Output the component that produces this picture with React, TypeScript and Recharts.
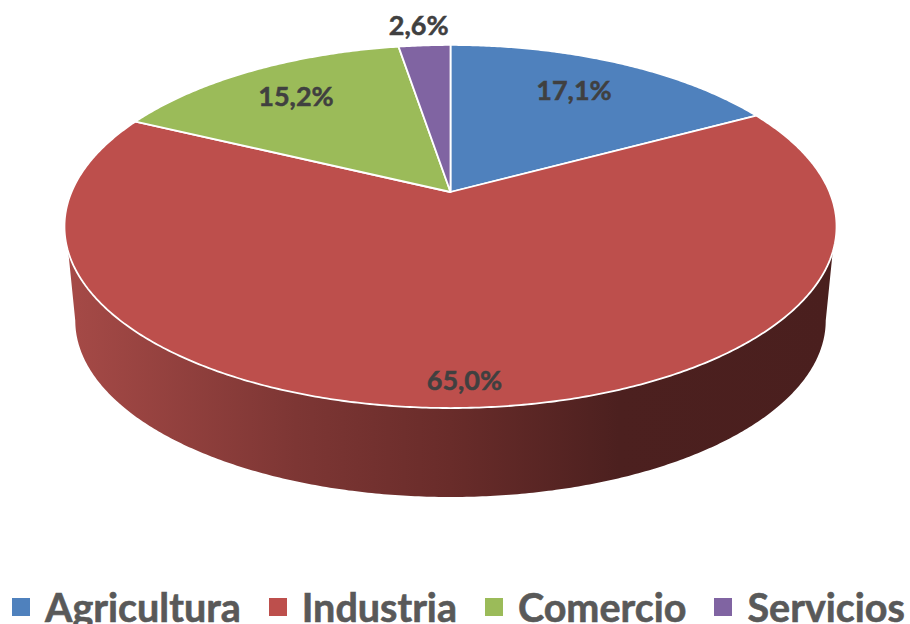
import { PieChart, Pie, Legend } from 'recharts'

const categories = ['Agricultura', 'Industria', 'Comercio', 'Servicios']
const shares = [17.1, 65.0, 15.2, 2.6]
const COLORS = ['#4f81bd', '#bd4f4c', '#9bbb59', '#8064a2']

const data = categories.map((name, i) => ({ name, value: shares[i], fill: COLORS[i] }))

// where each percentage sits: fraction of the radius plus a small nudge
const LABEL_PLACES = [
  { r: 0.71, dx: 0, dy: -7 },
  { r: 0.892, dx: 5, dy: 0 },
  { r: 0.749, dx: -2, dy: -2 },
  { r: 1.177, dx: -2, dy: 0 },
]

// the tilted disc is a perspective view of a circle
const TILT = 0.19
const SQUASH = 0.4617
const WALL_SCALE = 0.972
const WALL_DEPTH = 95

function project(cx: number, cy: number, radius: number, angle: number, r = 1) {
  const a = ((90 - angle) * Math.PI) / 180
  const u = Math.sin(a) * r
  const v = Math.cos(a) * r
  const w = 1 + TILT * v
  return { x: cx + (radius * u) / w, y: cy - (radius * SQUASH * v) / w }
}

function arcPoints(cx: number, cy: number, radius: number, from: number, to: number) {
  const steps = Math.max(2, Math.ceil(Math.abs(from - to) * 2))
  const points = []
  for (let i = 0; i <= steps; i++) {
    points.push(project(cx, cy, radius, from + ((to - from) * i) / steps))
  }
  return points
}

const toPath = (points: { x: number; y: number }[]) =>
  points.map((p, i) => `${i ? 'L' : 'M'}${p.x.toFixed(2)},${p.y.toFixed(2)}`).join(' ')

function TopSlice(props: any) {
  const { cx, cy, outerRadius, startAngle, endAngle, fill } = props
  const arc = arcPoints(cx, cy, outerRadius, startAngle, endAngle)
  return (
    <path
      d={`M${cx},${cy} ${toPath(arc).replace('M', 'L')} Z`}
      fill={fill}
      stroke="#ffffff"
      strokeWidth={1.8}
      strokeLinejoin="round"
    />
  )
}

function WallSlice(props: any) {
  const { cx, cy, outerRadius, startAngle, endAngle } = props
  // only the front of the disc has a visible wall (angles are polar degrees, -90 is the front)
  const from = Math.min(startAngle, -18.8)
  const to = Math.max(endAngle, -161.2)
  if (from <= to) return null
  const top = arcPoints(cx, cy, outerRadius, from, to)
  const bottom = arcPoints(cx, cy + WALL_DEPTH, outerRadius * WALL_SCALE, -169, -11)
  return (
    <g>
      <defs>
        <linearGradient id="wallShade" gradientUnits="userSpaceOnUse" x1={66} y1={0} x2={834} y2={0}>
          <stop offset="0%" stopColor="#a64a47" />
          <stop offset="30%" stopColor="#7d3634" />
          <stop offset="50%" stopColor="#692c2a" />
          <stop offset="72%" stopColor="#4c201f" />
          <stop offset="100%" stopColor="#4a1f1e" />
        </linearGradient>
      </defs>
      <path d={`${toPath(top)} ${toPath(bottom).replace('M', 'L')} Z`} fill="url(#wallShade)" />
    </g>
  )
}

function renderLabel(props: any) {
  const { cx, cy, outerRadius, midAngle, index } = props
  const place = LABEL_PLACES[index]
  const p = project(cx, cy, outerRadius, midAngle, place.r)
  return (
    <text
      x={p.x + place.dx}
      y={p.y + place.dy}
      textAnchor="middle"
      dominantBaseline="central"
      fill="#404040"
      stroke="#404040"
      strokeWidth={0.5}
      fontFamily="Lato"
      fontWeight={700}
      fontSize={27}
    >
      {shares[index].toFixed(1).replace('.', ',') + '%'}
    </text>
  )
}

export default function App() {
  return (
    <div style={{ position: 'absolute', left: 0, top: 0, width: 910, height: 624, overflow: 'hidden', background: '#fff' }}>
      <PieChart width={910} height={624} margin={{ top: 0, right: 0, bottom: 0, left: 0 }}>
        <Pie
          data={data}
          dataKey="value"
          nameKey="name"
          cx={450.5}
          cy={192}
          outerRadius={379}
          startAngle={90}
          endAngle={-270}
          legendType="none"
          shape={WallSlice}
          isAnimationActive={false}
        />
        <Pie
          data={data}
          dataKey="value"
          nameKey="name"
          cx={450.5}
          cy={192}
          outerRadius={379}
          startAngle={90}
          endAngle={-270}
          shape={TopSlice}
          label={renderLabel}
          labelLine={false}
          isAnimationActive={false}
        />
        <Legend
          layout="horizontal"
          align="left"
          verticalAlign="bottom"
          iconType="square"
          iconSize={18}
          itemSorter={null}
          wrapperStyle={{ left: 12, bottom: 5, width: 900, textAlign: 'left', whiteSpace: 'nowrap' }}
          formatter={(value) => (
            <span
              style={{
                color: '#595959',
                fontFamily: 'Lato',
                fontWeight: 700,
                fontSize: 39.5,
                marginLeft: 11,
                marginRight: 18,
                position: 'relative',
                top: 11,
                WebkitTextStroke: '0.6px #595959',
              }}
            >
              {value}
            </span>
          )}
        />
      </PieChart>
    </div>
  )
}
